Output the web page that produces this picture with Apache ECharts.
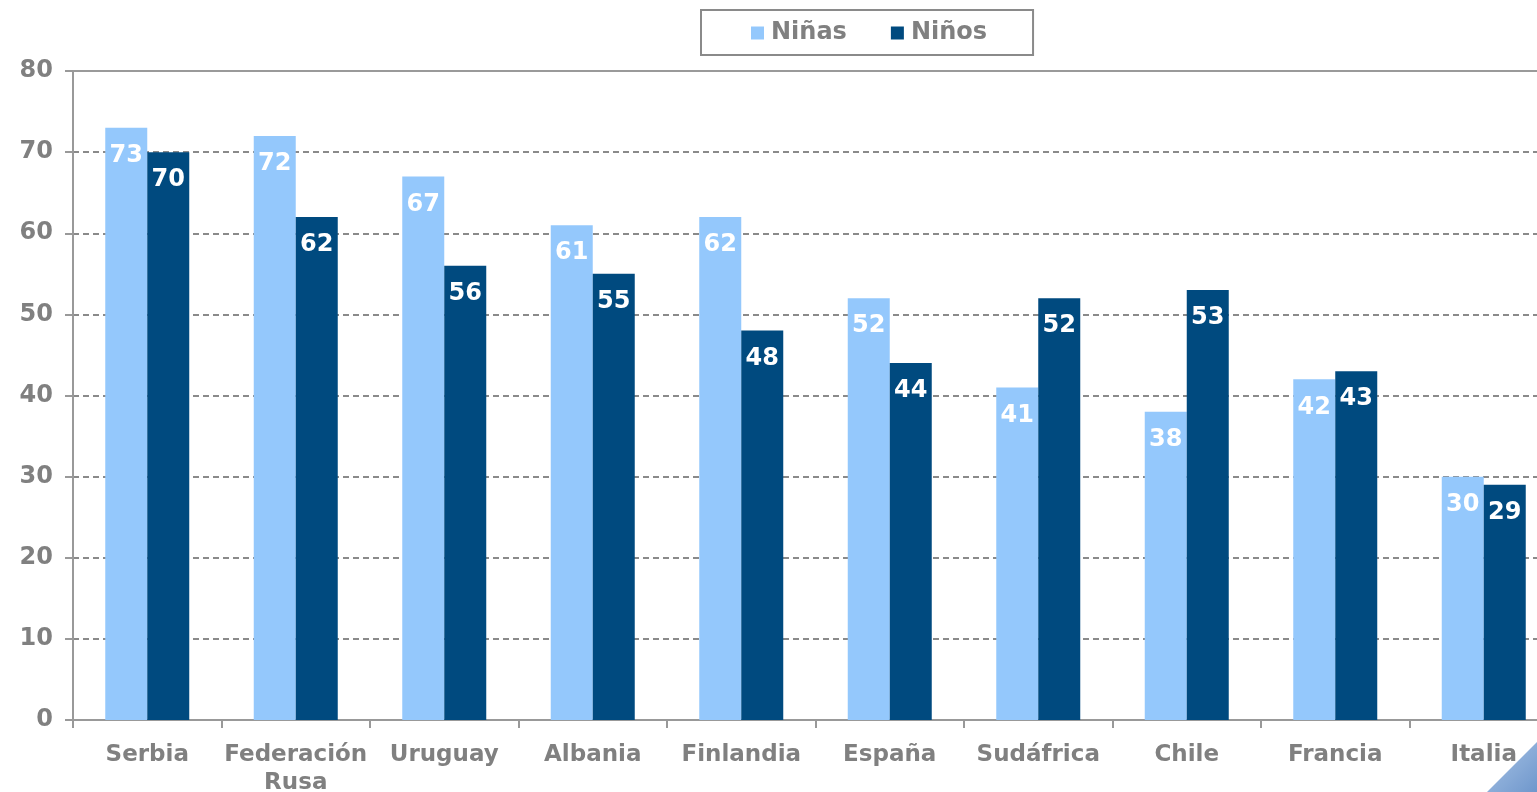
<!DOCTYPE html>
<html>
<head>
<meta charset="utf-8">
<script src="https://cdn.jsdelivr.net/npm/echarts@6/dist/echarts.min.js"></script>
<style>
  html, body { margin: 0; padding: 0; background: #ffffff; }
  #chart { width: 1537px; height: 792px; }
</style>
</head>
<body>
<div id="chart"></div>
<script>
// Countries and percentages by group
const categories = ['Serbia', 'Federación\nRusa', 'Uruguay', 'Albania', 'Finlandia', 'España', 'Sudáfrica', 'Chile', 'Francia', 'Italia'];
const ninas = [73, 72, 67, 61, 62, 52, 41, 38, 42, 30];
const ninos = [70, 62, 56, 55, 48, 44, 52, 53, 43, 29];
const yTicks = { min: 0, max: 80, interval: 10 };

const FONT = '"DejaVu Sans", Verdana, sans-serif';
const GRAY = '#808080';
const LIGHT = '#94c8fc';
const DARK = '#004a7f';

const chart = echarts.init(document.getElementById('chart'));

const labelStyle = {
  show: true,
  position: 'insideTop',
  distance: 16,
  color: '#ffffff',
  fontFamily: FONT,
  fontWeight: 'bold',
  fontSize: 24
};

chart.setOption({
  animation: false,
  backgroundColor: '#ffffff',
  legend: {
    left: 701,
    top: 10,
    padding: [11, 46, 10, 50],
    itemGap: 44,
    itemWidth: 13,
    itemHeight: 13,
    borderColor: '#8a8a8a',
    borderWidth: 2,
    icon: 'rect',
    textStyle: { color: GRAY, fontFamily: FONT, fontWeight: 'bold', fontSize: 24, padding: [0, 0, 0, 2] },
    data: ['Niñas', 'Niños']
  },
  // the plot runs past the right edge of the canvas
  grid: { left: 73, top: 71, bottom: 72, width: 1485, containLabel: false, outerBoundsMode: 'none' },
  xAxis: [
    {
      type: 'category',
      data: categories,
      axisLine: { lineStyle: { color: '#999999', width: 2 } },
      axisTick: { show: true, alignWithLabel: false, length: 8, lineStyle: { color: '#999999', width: 2 } },
      axisLabel: { color: GRAY, fontFamily: FONT, fontWeight: 'bold', fontSize: 23, margin: 21, lineHeight: 28, interval: 0 }
    },
    {
      type: 'category',
      position: 'top',
      data: categories,
      axisLine: { show: true, lineStyle: { color: '#9a9a9a', width: 2 } },
      axisTick: { show: false },
      axisLabel: { show: false }
    }
  ],
  yAxis: {
    type: 'value',
    min: yTicks.min,
    max: yTicks.max,
    interval: yTicks.interval,
    axisLine: { show: true, lineStyle: { color: '#999999', width: 2 } },
    axisTick: { show: true, length: 8, lineStyle: { color: '#999999', width: 2 } },
    axisLabel: { color: GRAY, fontFamily: FONT, fontWeight: 'bold', fontSize: 24, margin: 20 },
    splitLine: { show: true, lineStyle: { color: '#8a8a8a', width: 2, type: [6, 4] } }
  },
  series: [
    {
      name: 'Niñas',
      type: 'bar',
      data: ninas,
      barWidth: 42,
      barGap: '0%',
      itemStyle: { color: LIGHT },
      label: labelStyle
    },
    {
      name: 'Niños',
      type: 'bar',
      data: ninos,
      barWidth: 42,
      barGap: '0%',
      itemStyle: { color: DARK },
      label: labelStyle
    }
  ],
  graphic: [
    {
      type: 'polygon',
      shape: { points: [[1537, 742], [1537, 792], [1487, 792]] },
      style: {
        fill: new echarts.graphic.LinearGradient(0, 0, 1, 1, [
          { offset: 0, color: '#a9c4e6' },
          { offset: 1, color: '#6f97cc' }
        ])
      },
      z: 10
    }
  ]
});
</script>
</body>
</html>
